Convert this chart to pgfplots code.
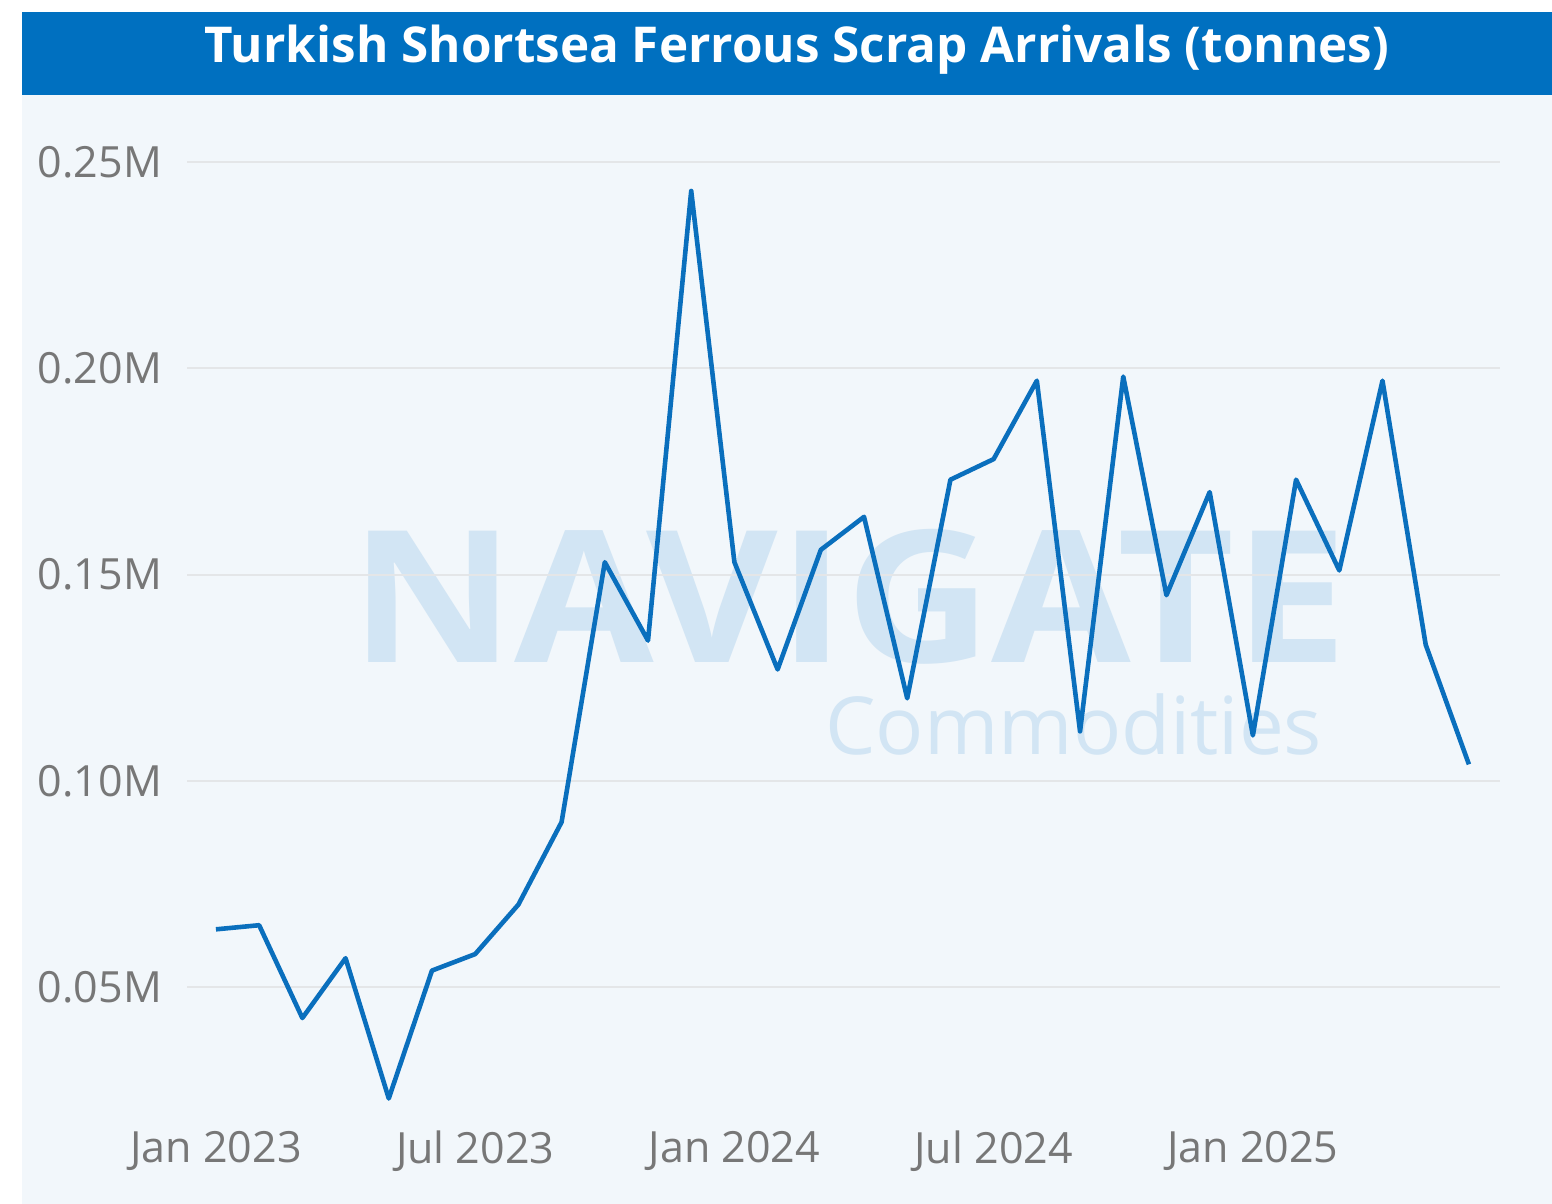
\documentclass[border=0pt]{standalone}
\usepackage{pgfplots}
\pgfplotsset{compat=1.18}
\usepackage{fontspec}
\setmainfont{Open Sans}
\definecolor{titlebar}{HTML}{0070C0}
\definecolor{bgc}{HTML}{F2F7FB}
\definecolor{linec}{HTML}{0A6FBD}
\definecolor{gridc}{HTML}{E4E6E8}
\definecolor{tickc}{HTML}{777777}
\definecolor{wm}{HTML}{D2E5F4}
\begin{document}
\begin{tikzpicture}
\begin{scope}[x=0.5pt,y=-0.5pt]
\fill[white] (0,0) rectangle (1552,1204);
\fill[bgc] (22,95) rectangle (1552,1204);
\fill[titlebar] (22,12) rectangle (1552,95);
\node[text=white,font=\bfseries\fontsize{24.7}{28}\selectfont] at (797,50) {Turkish Shortsea Ferrous Scrap Arrivals (tonnes)};
\node[text=wm,font=\bfseries\fontsize{92}{92}\selectfont,anchor=base west,inner sep=0pt,xscale=1.1] at (350,662) {NAVIGATE};
\node[text=wm,font=\fontsize{40}{40}\selectfont,anchor=base west,inner sep=0pt] at (825,754) {Commodities};
\end{scope}
\begin{axis}[
  at={(93.5pt,-555pt)}, anchor=south west,
  width=656.5pt, height=495pt, scale only axis,
  xmin=-0.67, xmax=29.72, ymin=0.0202, ymax=0.2602,
  axis line style={draw=none}, major tick length=0pt,
  ytick={0.05,0.1,0.15,0.2,0.25},
  yticklabels={0.05M,0.10M,0.15M,0.20M,0.25M},
  xtick={0,6,12,18,24},
  xticklabels={Jan 2023,Jul 2023,Jan 2024,Jul 2024,Jan 2025},
  ymajorgrids, grid style={gridc, line width=1pt},
  ticklabel style={text=tickc, font=\fontsize{21.5}{24}\selectfont},
  yticklabel style={anchor=east, xshift=-9pt},
  xticklabel style={anchor=north, yshift=-7pt},
  clip=false,
]
\addplot[linec, line width=2.3pt, line join=round] coordinates {
(0,0.064) (1,0.065) (2,0.0425) (3,0.057) (4,0.023) (5,0.054)
(6,0.058) (7,0.070) (8,0.090) (9,0.153) (10,0.134) (11,0.243)
(12,0.153) (13,0.127) (14,0.156) (15,0.164) (16,0.120) (17,0.173)
(18,0.178) (19,0.197) (20,0.112) (21,0.198) (22,0.145) (23,0.170)
(24,0.111) (25,0.173) (26,0.151) (27,0.197) (28,0.133) (29,0.104)
};
\end{axis}
\end{tikzpicture}
\end{document}
